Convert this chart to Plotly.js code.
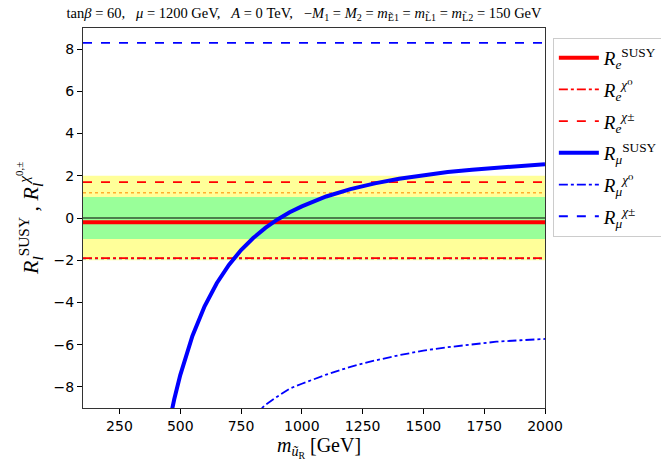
<!DOCTYPE html>
<html>
<head>
<meta charset="utf-8">
<script src="https://cdn.plot.ly/plotly-3.0.1.min.js"></script>
<style>html,body{margin:0;padding:0;background:#fff;}#chart{width:661px;height:461px;}</style>
</head>
<body>
<div id="chart"></div>
<script>
// ---- data ----
var xRange = [100, 2000];
// constant electron ratios
var ReSUSY = -0.2;
var ReChi0 = -1.9;
var ReChiPM = 1.7;
var RmuChiPM = 8.3;
var extraOrange = 1.2;   // dotted orange reference line
var extraBlue = -1.92;   // blue line hidden under R_e^chi0
// bands
var band2 = [-2, 2];
var band1 = [-1, 1];
// R_mu^SUSY curve
var mMuSusy = [440, 450, 475, 500, 550, 600, 650, 700, 750, 800, 850, 900, 950, 1000, 1100, 1200, 1300, 1400, 1500, 1600, 1700, 1800, 1900, 2000];
var RmuSusy = [-10.5, -9.94, -8.6, -7.44, -5.59, -4.18, -3.09, -2.22, -1.52, -0.95, -0.47, -0.07, 0.27, 0.55, 1.02, 1.37, 1.64, 1.86, 2.03, 2.18, 2.29, 2.39, 2.48, 2.55];
// R_mu^chi0 curve
var mMuChi0 = [800, 835, 850, 900, 950, 1000, 1100, 1200, 1300, 1400, 1500, 1600, 1700, 1800, 1900, 2000];
var RmuChi0 = [-9.4, -9.0, -8.85, -8.45, -8.08, -7.85, -7.42, -7.05, -6.75, -6.5, -6.28, -6.12, -5.98, -5.86, -5.79, -5.73];
var xTicks = [250, 500, 750, 1000, 1250, 1500, 1750, 2000];
var yTicks = [-8, -6, -4, -2, 0, 2, 4, 6, 8];

function hline(v, name, color, width, dash, show, grp) {
  return {x: xRange, y: [v, v], mode: 'lines', name: name, showlegend: show,
          legendgroup: grp, line: {color: color, width: width, dash: dash}, hoverinfo: 'skip'};
}

var traces = [
  hline(extraOrange, '', 'rgba(255,140,0,0.7)', 1.5, 'dot', false, 'x1'),
  hline(extraBlue, '', 'blue', 1.5, 'dot', false, 'x2'),
  hline(0, '', 'black', 1.2, 'solid', false, 'x3'),
  hline(ReSUSY, '<i>R</i><sub><i>e</i></sub><sup>SUSY</sup>', 'red', 4, 'solid', true, 'g1'),
  hline(ReChi0, '<i>R</i><sub><i>e</i></sub><sup><i>χ</i>⁰</sup>', 'red', 1.8, 'dashdot', true, 'g2'),
  hline(ReChiPM, '<i>R</i><sub><i>e</i></sub><sup><i>χ</i>±</sup>', 'red', 1.8, 'dash', true, 'g3'),
  {x: mMuSusy, y: RmuSusy, mode: 'lines', name: '<i>R</i><sub><i>μ</i></sub><sup>SUSY</sup>', legendgroup: 'g4',
   line: {color: 'blue', width: 4}, hoverinfo: 'skip'},
  {x: mMuChi0, y: RmuChi0, mode: 'lines', name: '<i>R</i><sub><i>μ</i></sub><sup><i>χ</i>⁰</sup>', legendgroup: 'g5',
   line: {color: 'blue', width: 1.8, dash: 'dashdot'}, hoverinfo: 'skip'},
  hline(RmuChiPM, '<i>R</i><sub><i>μ</i></sub><sup><i>χ</i>±</sup>', 'blue', 1.8, 'dash', true, 'g6')
];

var shapes = [
  {type: 'rect', xref: 'paper', yref: 'y', x0: 0, x1: 1, y0: band2[0], y1: band2[1],
   fillcolor: '#ffff99', line: {width: 0}, layer: 'below'},
  {type: 'rect', xref: 'paper', yref: 'y', x0: 0, x1: 1, y0: band1[0], y1: band1[1],
   fillcolor: '#99ff99', line: {width: 0}, layer: 'below'}
];

var serif = 'Liberation Serif, DejaVu Serif, serif';
var S = '\u00a0';
var layout = {
  width: 661, height: 461,
  margin: {l: 83, r: 116, t: 28, b: 53, autoexpand: false},
  paper_bgcolor: '#fff', plot_bgcolor: '#fff',
  showlegend: true,
  shapes: shapes,
  title: {
    text: 'tan<i>β</i>' + S + '=' + S + '60,' + S + S + S + '<i>μ</i>' + S + '=' + S + '1200' + S + 'GeV,' + S + S + S + '<i>A</i>' + S + '=' + S + '0' + S + 'TeV,' + S + S + S + '−<i>M</i><sub>1</sub>' + S + '=' + S + '<i>M</i><sub>2</sub>' + S + '=' + S + '<i>m</i><sub>Ẽ1</sub>' + S + '=' + S + '<i>m</i><sub>L̃1</sub>' + S + '=' + S + '<i>m</i><sub>L̃2</sub>' + S + '=' + S + '150' + S + 'GeV',
    font: {family: serif, size: 14.5, color: '#000'},
    x: 0.46, xanchor: 'center', y: 0.972, yanchor: 'middle'
  },
  annotations: [{
    text: '<i>m</i><sub><i>ũ</i><sub>R</sub></sub> [GeV]', xref: 'paper', yref: 'paper',
    x: 0.51, y: -0.1035, xanchor: 'center', yanchor: 'middle', showarrow: false,
    font: {family: serif, size: 20, color: '#000'}
  }],
  xaxis: {
    range: xRange, tickvals: xTicks, ticktext: xTicks.map(String),
    ticks: 'outside', ticklen: 5, tickwidth: 1, tickcolor: '#000',
    showline: true, linecolor: '#333', linewidth: 1, mirror: true,
    showgrid: false, zeroline: false, automargin: false,
    tickfont: {family: 'DejaVu Sans', size: 14, color: '#000'}
  },
  yaxis: {
    range: [-9, 9], tickvals: yTicks,
    ticks: 'outside', ticklen: 5, tickwidth: 1, tickcolor: '#000',
    showline: true, linecolor: '#333', linewidth: 1, mirror: true,
    showgrid: false, zeroline: false, automargin: false,
    tickfont: {family: 'DejaVu Sans', size: 14, color: '#000'},
    title: {text: '<i>R</i><sub><i>l</i></sub><sup>SUSY</sup> , <i>R</i><sub><i>l</i></sub><sup><i>χ</i><sup>0,±</sup></sup>', font: {family: serif, size: 22, color: '#000'}, standoff: 8}
  },
  legend: {
    x: 1.017, y: 0.974, xanchor: 'left', yanchor: 'top',
    bgcolor: '#fff', bordercolor: '#ccc', borderwidth: 1,
    font: {family: serif, size: 19, color: '#000'},
    itemwidth: 40, tracegroupgap: 4, traceorder: 'grouped'
  }
};

Plotly.newPlot('chart', traces, layout, {displayModeBar: false, staticPlot: true});
</script>
</body>
</html>
